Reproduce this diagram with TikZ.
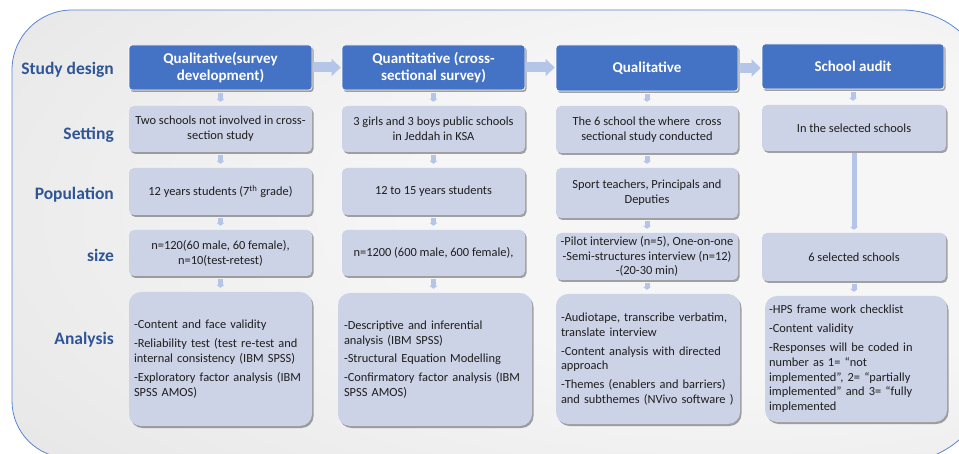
\documentclass[tikz,border=0pt]{standalone}
\usepackage{fontspec}
\setmainfont{Carlito}
\usetikzlibrary{arrows.meta,shadows}
\definecolor{hdrblue}{HTML}{4472C4}
\definecolor{boxfill}{HTML}{CDD3E7}
\definecolor{labblue}{HTML}{2F5597}
\definecolor{arrblue}{HTML}{B4C5E7}
\definecolor{bgin}{HTML}{F6F6F6}
\definecolor{bgout}{HTML}{D4D4D4}
\definecolor{frameblue}{HTML}{5B86D0}
\definecolor{txt}{HTML}{1E1E1E}
\pgfdeclareradialshading{bgshade}{\pgfpoint{18bp}{4bp}}{color(0bp)=(bgin);color(18bp)=(bgin);color(72bp)=(bgout)}
\begin{document}
\begin{tikzpicture}[x=1pt,y=-1pt,
  shad/.style={drop shadow={shadow xshift=1.5pt,shadow yshift=-2pt,opacity=0.35,fill=black}},
  hdr/.style={rectangle,rounded corners=3pt,fill=hdrblue,draw=white,line width=0.8pt,text=white,
    font=\bfseries\fontsize{15}{16.5}\selectfont,align=center,inner sep=2pt,shad},
  cbox/.style={rectangle,rounded corners=5pt,fill=boxfill,text=txt,
    font=\fontsize{12.4}{14.8}\selectfont,align=center,inner sep=2pt,shad},
  abox/.style={cbox,rounded corners=12pt,align=left,inner xsep=5pt},
  lab/.style={text=labblue,font=\bfseries\fontsize{17.5}{19}\selectfont,anchor=east,inner sep=0pt},
  darr/.style={draw=arrblue,line width=5pt,-{Triangle[width=8pt,length=3pt]},shorten <=3pt,shorten >=4pt},
  harr/.style={draw=arrblue,line width=10pt,-{Triangle[width=17pt,length=9pt]},shorten <=1pt,shorten >=1pt}
]
\useasboundingbox (0,0) rectangle (959,454);
\begin{scope}
\clip (0,0) rectangle (959,454);
\shade[shading=bgshade] (12,70) .. controls (12,36.9) and (38.9,10) .. (72,10)
  -- (902,10) .. controls (950.6,10) and (990,49.4) .. (990,98)
  -- (990,372) .. controls (990,421.7) and (949.7,462) .. (900,462)
  -- (69,458) .. controls (37.5,458) and (12,432.5) .. (12,401) -- cycle;
\draw[frameblue,line width=0.8pt] (12,70) .. controls (12,36.9) and (38.9,10) .. (72,10)
  -- (902,10) .. controls (950.6,10) and (990,49.4) .. (990,98)
  -- (990,372) .. controls (990,421.7) and (949.7,462) .. (900,462)
  -- (69,458) .. controls (37.5,458) and (12,432.5) .. (12,401) -- cycle;
\end{scope}

% row labels
\node[lab] (l1) at (114,70) {Study design};
\node[lab] (l2) at (114,135) {Setting};
\node[lab] (l3) at (114,195) {Population};
\node[lab] (l4) at (114,255) {size};
\node[lab] (l5) at (114,340) {Analysis};

% headers
\node[hdr,minimum width=183pt,minimum height=45pt] (h1) at (220.5,67.5) {Qualitative(survey\\development)};
\node[hdr,minimum width=183pt,minimum height=45pt] (h2) at (433.5,67.5) {Quantitative (cross-\\sectional survey)};
\node[hdr,minimum width=182pt,minimum height=46pt] (h3) at (647,68) {Qualitative};
\node[hdr,minimum width=182pt,minimum height=45pt] (h4) at (853,66.5) {School audit};

% setting
\node[cbox,minimum width=183pt,minimum height=46pt] (s1) at (220.5,129) {Two schools not involved in cross-\\section study};
\node[cbox,minimum width=183pt,minimum height=46pt] (s2) at (433.5,129) {3 girls and 3 boys public schools\\in Jeddah in KSA};
\node[cbox,minimum width=182pt,minimum height=47pt] (s3) at (647,129.5) {The 6 school the where\ \ cross\\sectional study conducted};
\node[cbox,minimum width=184pt,minimum height=46pt] (s4) at (854,128) {In the selected schools};

% population
\node[cbox,minimum width=183pt,minimum height=47pt] (p1) at (220.5,191.5) {12 years students (7\textsuperscript{th} grade)};
\node[cbox,minimum width=183pt,minimum height=47pt] (p2) at (433.5,191.5) {12 to 15 years students};
\node[cbox,minimum width=182pt,minimum height=50pt] (p3) at (647,193) {Sport teachers, Principals and\\Deputies};

% size
\node[cbox,minimum width=183pt,minimum height=46pt] (z1) at (220.5,253) {n=120(60 male, 60 female),\\n=10(test-retest)};
\node[cbox,minimum width=183pt,minimum height=46pt] (z2) at (433.5,253) {n=1200 (600 male, 600 female),};
\node[cbox,minimum width=182pt,minimum height=47pt] (z3) at (647,256.5) {-Pilot interview (n=5), One-on-one\\-Semi-structures interview (n=12)\\-(20-30 min)};
\node[cbox,minimum width=184pt,minimum height=48pt] (z4) at (854,257) {6 selected schools};

% analysis
\node[abox,text width=173pt,minimum height=134pt] (a1) at (220.5,359) {-Content and face validity\\[4pt]-Reliability test (test re-test and\\internal consistency (IBM SPSS)\\[4pt]-Exploratory factor analysis (IBM\\SPSS AMOS)};
\node[abox,inner xsep=6pt,text width=182pt,minimum height=133pt] (a2) at (435,359.5) {-Descriptive and inferential\\analysis (IBM SPSS)\\[4pt]-Structural Equation Modelling\\[4pt]-Confirmatory factor analysis (IBM\\SPSS AMOS)};
\node[abox,inner xsep=5pt,text width=174pt,minimum height=130pt] (a3) at (648,359) {-Audiotape, transcribe verbatim,\\translate interview\\[4pt]-Content analysis with directed\\approach\\[4pt]-Themes (enablers and barriers)\\and subthemes (NVivo software\ )};
\node[abox,inner xsep=4pt,text width=174pt,minimum height=126pt] (a4) at (856,359) {-HPS frame work checklist\\[4pt]-Content validity\\[4pt]-Responses will be coded in\\number as 1= “not\\implemented”, 2= “partially\\implemented” and 3= “fully\\implemented};

% horizontal arrows
\draw[harr] (h1.east) -- (h2.west);
\draw[harr] (h2.east) -- (h2.east -| h3.west);
\draw[harr] (h3.east) -- (h3.east -| h4.west);

% vertical arrows
\foreach \c in {1,2,3}{
  \draw[darr] (h\c.south) -- (h\c.south |- s\c.north);
  \draw[darr] (s\c.south) -- (s\c.south |- p\c.north);
  \draw[darr] (p\c.south) -- (p\c.south |- z\c.north);
  \draw[darr] (z\c.south) -- (z\c.south |- a\c.north);
}
\draw[darr] (h4.south) -- (h4.south |- s4.north);
\draw[darr,shorten <=2pt,shorten >=3pt] (s4.south) -- (s4.south |- z4.north);
\draw[darr] (z4.south) -- (z4.south |- a4.north);
\end{tikzpicture}
\end{document}
